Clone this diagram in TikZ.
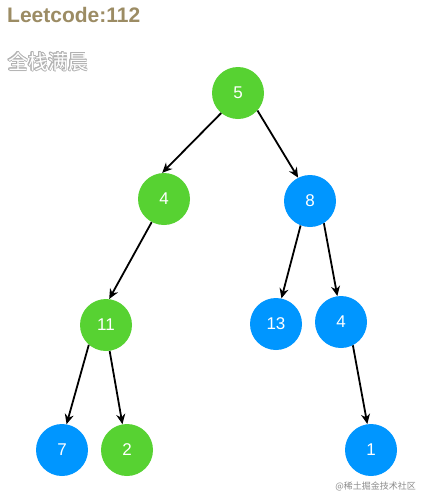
\documentclass[tikz,border=0pt]{standalone}
\usepackage{fontspec}
\setmainfont{Liberation Sans}
\newfontfamily\cjk{Noto Sans CJK SC}
\usepackage{contour}
\contourlength{0.7pt}
\usetikzlibrary{arrows.meta}
\definecolor{tgreen}{RGB}{87,210,50}
\definecolor{tblue}{RGB}{0,150,255}
\definecolor{ttitle}{RGB}{156,140,100}
\tikzset{
  tnode/.style={circle,minimum size=52pt,inner sep=0pt,text=white,font=\fontsize{17}{17}\selectfont},
  gnode/.style={tnode,fill=tgreen},
  bnode/.style={tnode,fill=tblue},
  link/.style={line width=1.8pt,-{Stealth[length=10pt,width=9pt]}}
}
\begin{document}
\begin{tikzpicture}[x=1pt,y=-1pt]
\useasboundingbox[fill=white] (0,0) rectangle (427,504);
\node[anchor=west,text=ttitle,font=\fontsize{21}{21}\selectfont\bfseries,inner sep=0pt] (title) at (7,15) {Leetcode:112};
\node[anchor=west,inner sep=0pt,font=\fontsize{20}{20}\selectfont\cjk] (sub) at (8,62) {\color{white}\contour{black!30}{全栈满晨}};
\node[gnode] (n5) at (238,93) {5};
\node[gnode] (n4) at (164,199) {4};
\node[bnode] (n8) at (310,201) {8};
\node[gnode] (n11) at (106,325) {11};
\node[bnode] (n13) at (276,324) {13};
\node[bnode] (n4b) at (341,322) {4};
\node[bnode] (n7) at (62,450) {7};
\node[gnode] (n2) at (127,450) {2};
\node[bnode] (n1) at (371,450) {1};
\draw[link] (n5.230) -- (n4.94);
\draw[link] (n5.318) -- (n8.117);
\draw[link] (n4.242) -- (n11.83);
\draw[link] (n8.249) -- (n13.78);
\draw[link] (n8.302) -- (n4b.98);
\draw[link] (n11.229) -- (n7.80);
\draw[link] (n11.278) -- (n2.100);
\draw[link] (n4b.297) -- (n1.98);
\node[anchor=east,inner sep=0pt,text=black!45,font=\fontsize{9}{9}\selectfont\cjk] (wm) at (416,486) {@稀土掘金技术社区};
\end{tikzpicture}
\end{document}
